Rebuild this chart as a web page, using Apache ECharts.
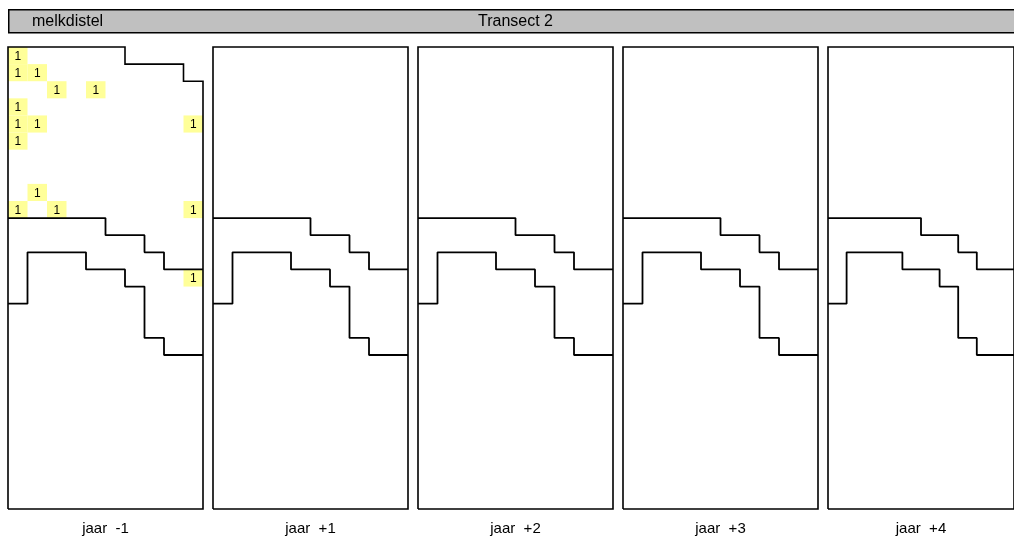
<!DOCTYPE html>
<html>
<head>
<meta charset="utf-8">
<script src="https://cdn.jsdelivr.net/npm/echarts@6/dist/echarts.min.js"></script>
<style>
html,body{margin:0;padding:0;background:#fff;}
#chart{width:1014px;height:541px;}
</style>
</head>
<body>
<div id="chart"></div>
<script>
// ---- data ----
const speciesName = 'melkdistel';
const transectName = 'Transect 2';
const panelLabels = ['jaar  -1', 'jaar  +1', 'jaar  +2', 'jaar  +3', 'jaar  +4'];
const nCols = 10;
const nRows = 27;
// row boundary (top of row index) per column
const upperLine = [10, 10, 10, 10, 10, 11, 11, 12, 13, 13];
const lowerLine = [15, 12, 12, 12, 13, 13, 14, 17, 18, 18];
const frameTopYearMinus1 = [0, 0, 0, 0, 0, 0, 1, 1, 1, 2];
const frameTopFlat = [0, 0, 0, 0, 0, 0, 0, 0, 0, 0];
const frameTops = [frameTopYearMinus1, frameTopFlat, frameTopFlat, frameTopFlat, frameTopFlat];
// [column, row, count]
const countsYearMinus1 = [
  [0, 0, 1], [0, 1, 1], [1, 1, 1], [2, 2, 1], [4, 2, 1],
  [0, 3, 1], [0, 4, 1], [1, 4, 1], [9, 4, 1], [0, 5, 1],
  [1, 8, 1], [0, 9, 1], [2, 9, 1], [9, 9, 1], [9, 13, 1]
];
const countsYearPlus1 = [];
const countsYearPlus2 = [];
const countsYearPlus3 = [];
const countsYearPlus4 = [];
const countsByPanel = [countsYearMinus1, countsYearPlus1, countsYearPlus2, countsYearPlus3, countsYearPlus4];

// ---- layout ----
const panelLeft0 = 8, panelStep = 205, panelWidth = 195, panelTop = 47, panelHeight = 462;
const FONT = '"Liberation Sans", Arial, sans-serif';

function stepPoints(arr) {
  const pts = [];
  arr.forEach((r, i) => { pts.push([i, r]); pts.push([i + 1, r]); });
  return pts;
}
function framePoints(top) {
  return [[0, nRows]].concat(stepPoints(top)).concat([[nCols, nRows], [0, nRows]]);
}

const grids = [], xAxes = [], yAxes = [], series = [];
panelLabels.forEach((lab, p) => {
  grids.push({ left: panelLeft0 + p * panelStep, top: panelTop, width: panelWidth, height: panelHeight, show: false });
  xAxes.push({
    gridIndex: p, type: 'value', min: 0, max: nCols,
    axisLine: { show: false }, axisTick: { show: false }, axisLabel: { show: false }, splitLine: { show: false },
    name: lab, nameLocation: 'middle', nameGap: 12,
    nameTextStyle: { fontFamily: FONT, fontSize: 15, color: '#000', verticalAlign: 'top' }
  });
  yAxes.push({
    gridIndex: p, type: 'value', min: 0, max: nRows, inverse: true,
    axisLine: { show: false }, axisTick: { show: false }, axisLabel: { show: false }, splitLine: { show: false }
  });
  series.push({
    type: 'custom', xAxisIndex: p, yAxisIndex: p, z: 1, silent: true,
    data: countsByPanel[p],
    renderItem: function (params, api) {
      const c = api.value(0), r = api.value(1);
      const p0 = api.coord([c, r]);
      const p1 = api.coord([c + 1, r + 1]);
      return {
        type: 'group',
        children: [
          { type: 'rect', shape: { x: p0[0], y: p0[1], width: p1[0] - p0[0], height: p1[1] - p0[1] },
            style: { fill: '#ffff99' } },
          { type: 'text', x: (p0[0] + p1[0]) / 2, y: (p0[1] + p1[1]) / 2 + 1,
            style: { text: String(api.value(2)), fill: '#000', font: '12px ' + FONT, align: 'center', verticalAlign: 'middle' } }
        ]
      };
    }
  });
  [upperLine, lowerLine].forEach(arr => {
    series.push({
      type: 'line', xAxisIndex: p, yAxisIndex: p, z: 3, silent: true, clip: false,
      symbol: 'none', animation: false, data: stepPoints(arr),
      lineStyle: { color: '#000', width: 1.8 }
    });
  });
  series.push({
    type: 'line', xAxisIndex: p, yAxisIndex: p, z: 3, silent: true, clip: false,
    symbol: 'none', animation: false, data: framePoints(frameTops[p]),
    lineStyle: { color: '#000', width: 1.6, join: 'miter' }
  });
});

const chart = echarts.init(document.getElementById('chart'), null, { renderer: 'canvas' });
chart.setOption({
  backgroundColor: '#fff',
  animation: false,
  graphic: [{
    type: 'rect', left: 8, top: 9, z: -1,
    shape: { width: 1030, height: 23 },
    style: { fill: '#c0c0c0', stroke: '#000', lineWidth: 1.5 }
  }],
  title: [
    { text: speciesName, left: 32, top: 14, padding: 0,
      textStyle: { fontFamily: FONT, fontSize: 16, fontWeight: 'normal', color: '#000' } },
    { text: transectName, left: 478, top: 14, padding: 0,
      textStyle: { fontFamily: FONT, fontSize: 16, fontWeight: 'normal', color: '#000' } }
  ],
  grid: grids,
  xAxis: xAxes,
  yAxis: yAxes,
  series: series
});
</script>
</body>
</html>
